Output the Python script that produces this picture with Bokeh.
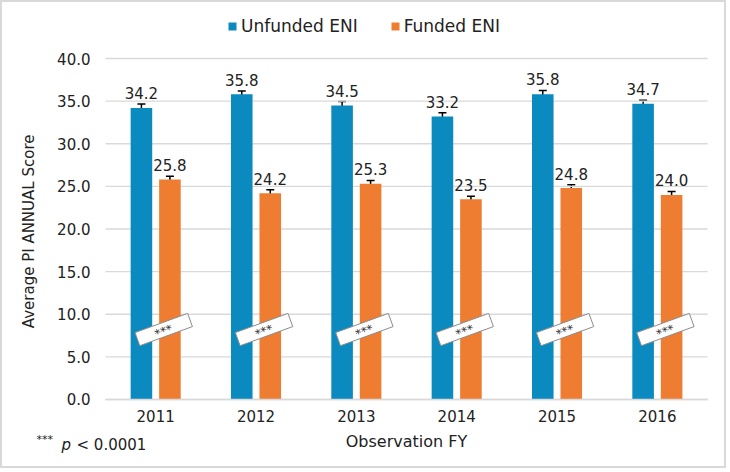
from bokeh.plotting import figure
from bokeh.models import (ColumnDataSource, Range1d, FixedTicker, NumeralTickFormatter,
                          Whisker, Legend, LegendItem, LabelSet, Label)
from bokeh.core.properties import value
from bokeh.embed import file_html
from bokeh.resources import INLINE
import math

years = ["2011", "2012", "2013", "2014", "2015", "2016"]
unfunded = [34.2, 35.8, 34.5, 33.2, 35.8, 34.7]
funded = [25.8, 24.2, 25.3, 23.5, 24.8, 24.0]
err_unfunded = [0.45, 0.4, 0.45, 0.45, 0.45, 0.4]
err_funded = [0.4, 0.4, 0.4, 0.35, 0.4, 0.4]
sig = ["***"] * 6
y_ticks = [0, 5, 10, 15, 20, 25, 30, 35, 40]
series_names = ["Unfunded ENI", "Funded ENI"]

BLUE = "#0a8abf"
ORANGE = "#ee7d31"
FONT = "DejaVu Sans"
TXT = "#222222"

off = 0.142   # half-distance between the two bars of a year (category units)
bw = 0.215    # bar width (category units)
centers = [i + 0.5 for i in range(len(years))]

src = ColumnDataSource(dict(
    xc=centers,
    xu=[c - off for c in centers],
    xf=[c + off for c in centers],
    xs=[c + 0.08 for c in centers],
    unf=unfunded, fun=funded,
    unf_lo=[v - e for v, e in zip(unfunded, err_unfunded)],
    unf_hi=[v + e for v, e in zip(unfunded, err_unfunded)],
    fun_lo=[v - e for v, e in zip(funded, err_funded)],
    fun_hi=[v + e for v, e in zip(funded, err_funded)],
    unf_lab=[f"{v:.1f}" for v in unfunded],
    fun_lab=[f"{v:.1f}" for v in funded],
    sig=sig,
))
grid_src = ColumnDataSource(dict(y=y_ticks, x0=[0] * len(y_ticks), x1=[len(years)] * len(y_ticks)))

# frame fills the whole canvas; axes are pinned at x=0 / y=0
p = figure(x_range=Range1d(-1.0266, 6.209), y_range=Range1d(-8.33, 46.57),
           width=726, height=468, output_backend="svg", toolbar_location=None, min_border=0)
p.outline_line_color = None
p.background_fill_color = "white"
p.border_fill_color = "white"
p.xgrid.grid_line_color = None
p.ygrid.grid_line_color = None

p.segment(x0="x0", x1="x1", y0="y", y1="y", source=grid_src, line_color="#d9d9d9", line_width=1.3)

r1 = p.vbar(x="xu", top="unf", width=bw, source=src, fill_color=BLUE, line_color=None)
r2 = p.vbar(x="xf", top="fun", width=bw, source=src, fill_color=ORANGE, line_color=None)

for lo, hi, xcol in (("unf_lo", "unf_hi", "xu"), ("fun_lo", "fun_hi", "xf")):
    w = Whisker(base=xcol, lower=lo, upper=hi, source=src, line_color="black", line_width=1.5)
    for h in (w.upper_head, w.lower_head):
        h.size = 8
        h.line_width = 1.5
        h.line_color = "black"
    p.add_layout(w)

for col, lab, xcol in (("unf_hi", "unf_lab", "xu"), ("fun_hi", "fun_lab", "xf")):
    p.add_layout(LabelSet(x=xcol, y=col, text=lab, source=src,
                          text_align="center", text_baseline="bottom", y_offset=5,
                          text_font=value(FONT), text_font_size=value("15px"),
                          text_color=TXT))

ang = math.radians(20)
p.rect(x="xs", y=8.2, width=56, height=14, width_units="screen", height_units="screen",
       angle=ang, source=src, fill_color="white", line_color="#8c8c8c", line_width=1)
p.add_layout(LabelSet(x="xs", y=8.2, text="sig", source=src,
                      angle=ang, text_align="center", text_baseline="middle", y_offset=-2,
                      text_font=value(FONT), text_font_size=value("12px"),
                      text_color="#333333"))

xax = p.xaxis[0]
yax = p.yaxis[0]
yax.ticker = FixedTicker(ticks=y_ticks)
yax.formatter = NumeralTickFormatter(format="0.0")
yax.fixed_location = 0
yax.bounds = (0, 40)
xax.ticker = FixedTicker(ticks=centers)
xax.major_label_overrides = {c: y for c, y in zip(centers, years)}
xax.fixed_location = 0
xax.bounds = (0, len(years))
for ax in (xax, yax):
    ax.major_label_text_font = FONT
    ax.major_label_text_font_size = "15px"
    ax.major_label_text_color = TXT
    ax.axis_label_text_font = FONT
    ax.axis_label_text_font_style = "normal"
    ax.axis_label_text_color = TXT
    ax.major_tick_line_color = None
    ax.minor_tick_line_color = None
    ax.major_tick_out = 0
    ax.major_tick_in = 0
    ax.minor_tick_out = 0
    ax.minor_tick_in = 0
yax.axis_line_color = None
xax.axis_line_color = "#d9d9d9"
xax.axis_line_width = 1.3
yax.axis_label = "Average PI ANNUAL  Score"
yax.axis_label_text_font_size = "15px"
yax.major_label_standoff = 15
yax.axis_label_standoff = 16
xax.axis_label = "Observation FY"
xax.axis_label_text_font_size = "16px"
xax.major_label_standoff = 11
xax.axis_label_standoff = 6

legend = Legend(items=[LegendItem(label=series_names[0], renderers=[r1]),
                       LegendItem(label=series_names[1], renderers=[r2])],
                orientation="horizontal", location=(225, 434),
                glyph_width=10, glyph_height=10, label_standoff=4, spacing=32,
                padding=0, margin=0, border_line_color=None, background_fill_alpha=0,
                label_text_font=FONT, label_text_font_size="17px", label_text_color=TXT,
                label_height=20)
p.add_layout(legend, "center")

p.add_layout(Label(x=34, y=25, x_units="screen", y_units="screen", text="***",
                   text_font=FONT, text_font_size="11px", text_color=TXT))
p.add_layout(Label(x=59, y=17, x_units="screen", y_units="screen", text="p",
                   text_font=FONT, text_font_size="15px", text_font_style="italic", text_color=TXT))
p.add_layout(Label(x=74, y=17, x_units="screen", y_units="screen", text="< 0.0001",
                   text_font=FONT, text_font_size="15px", text_color=TXT))

p.styles = {"border": "2px solid #d9d9d9"}

open("out.html", "w").write(file_html(p, INLINE))
